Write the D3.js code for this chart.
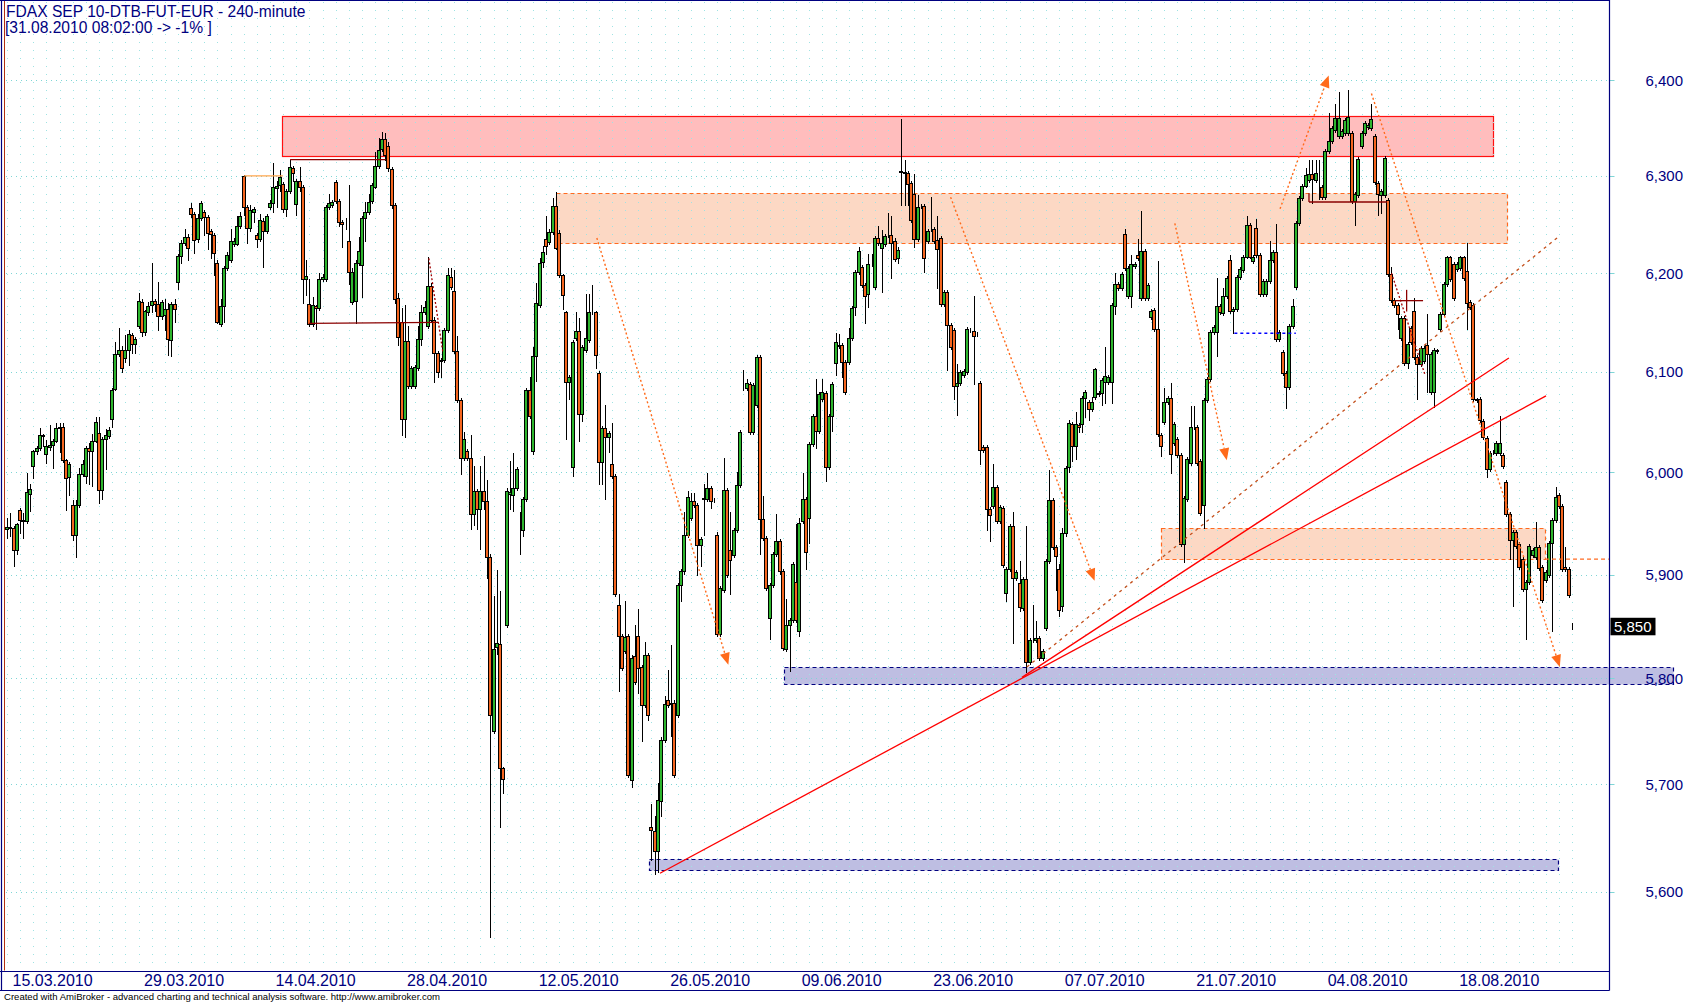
<!DOCTYPE html>
<html><head><meta charset="utf-8">
<script src="https://cdn.jsdelivr.net/npm/d3@7"></script>
<style>html,body{margin:0;padding:0;background:#fff;}svg{display:block;font-family:"Liberation Sans",Arial,sans-serif;}</style>
</head><body><svg id="c" width="1686" height="1002"></svg>
<script>
// ---------------- DATA ----------------
const chartTitle = "FDAX SEP 10-DTB-FUT-EUR - 240-minute";
const chartSubtitle = "[31.08.2010 08:02:00 -> -1% ]";
const footerText = "Created with AmiBroker - advanced charting and technical analysis software. http://www.amibroker.com";

const opens = [
5944,5946,5945,5924,5963,5953,5952,5979,6006,6021,6024,6037,6018,6025,6027,6031,6044,6045,6012,5995,
5968,5939,5968,5998,5996,6024,6021,6031,6039,5983,6033,6036,6053,6083,6118,6122,6114,6122,6137,6128,
6146,6171,6140,6160,6168,6172,6169,6156,6157,6164,6132,6169,6191,6218,6231,6237,6267,6261,6235,6257,
6263,6258,6243,6239,6210,6148,6167,6205,6213,6230,6230,6248,6300,6268,6246,6263,6239,6235,6253,6243,
6268,6272,6287,6291,6292,6266,6284,6308,6271,6295,6289,6194,6169,6148,6167,6165,6194,6194,6268,6270,
6294,6274,6252,6250,6233,6171,6172,6210,6208,6257,6263,6274,6289,6310,6328,6338,6331,6307,6270,6175,
6150,6053,6131,6086,6086,6104,6133,6160,6146,6187,6152,6119,6111,6112,6142,6196,6182,6121,6072,6014,
6021,6014,5959,5982,5964,5982,5972,5917,5750,5830,5833,5715,5851,5979,5978,5985,5944,5943,5974,6082,
6021,6116,6168,6211,6235,6232,6242,6269,6241,6198,6160,6090,6005,6134,6141,6058,6122,6132,6160,6160,
6099,6010,6044,6035,6008,5996,5871,5841,5826,5841,5704,5821,5841,5811,5775,5822,5660,5656,5638,5684,
5742,5779,5777,5777,5765,5890,5903,5939,5955,5972,5968,5929,5974,5974,5985,5973,5939,5843,5885,5983,
5924,5919,5943,5988,6084,6084,6088,6040,6067,6115,5954,5936,5858,5890,5920,5933,5903,5828,5851,5856,
5893,5845,5952,5974,5955,6028,6056,6041,6073,6079,6005,6056,6109,6127,6127,6110,6110,6134,6166,6201,
6206,6188,6179,6209,6186,6236,6226,6230,6239,6239,6233,6215,6304,6304,6303,6293,6281,6235,6269,6269,
6233,6245,6245,6234,6236,6169,6181,6147,6142,6086,6089,6097,6100,6142,6141,6138,6089,6025,6025,5964,
5967,5986,5952,5965,5882,5905,5947,5897,5892,5868,5896,5816,5837,5837,5839,5820,5848,5913,5973,5927,
5905,5870,5940,6005,6048,6026,6047,6048,6074,6070,6063,6075,6078,6079,6090,6090,6090,6167,6189,6185,
6240,6177,6177,6207,6219,6175,6223,6175,6155,6163,6143,6037,6050,6070,6074,6029,6033,6017,5930,5974,
6009,6045,6045,6011,5968,6072,6093,6140,6140,6167,6159,6177,6213,6161,6164,6196,6203,6217,6249,6212,
6246,6219,6179,6179,6192,6213,6222,6133,6120,6099,6085,6146,6186,6251,6277,6290,6296,6302,6296,6303,
6289,6278,6326,6336,6348,6341,6341,6345,6345,6345,6274,6280,6331,6345,6351,6350,6342,6293,6280,6280,
6275,6199,6173,6168,6134,6154,6109,6144,6161,6115,6108,6111,6127,6080,6080,6121,6143,6158,6189,6216,
6209,6204,6205,6216,6202,6171,6168,6073,6073,6051,6034,6003,6020,6019,6019,6017,5991,5959,5934,5941,
5930,5915,5886,5893,5919,5917,5927,5907,5895,5900,5931,5953,5978,5967,5907,5905,5850];

const highs = [
5955,5960,5947,5950,5965,5960,5999,5989,6022,6026,6044,6038,6032,6047,6033,6049,6049,6049,6013,6010,
5973,5973,6004,6012,6026,6029,6038,6055,6055,6035,6043,6045,6084,6130,6144,6126,6137,6142,6139,6135,
6180,6174,6163,6171,6210,6174,6191,6173,6174,6170,6171,6174,6220,6234,6245,6240,6272,6263,6261,6274,
6265,6260,6245,6241,6213,6174,6207,6222,6245,6236,6259,6263,6301,6270,6270,6268,6241,6261,6256,6261,
6275,6313,6295,6306,6294,6286,6317,6310,6297,6309,6291,6213,6194,6176,6168,6200,6199,6270,6281,6275,
6296,6276,6254,6256,6291,6205,6213,6237,6259,6273,6281,6293,6325,6339,6346,6345,6335,6309,6272,6180,
6165,6168,6146,6106,6107,6146,6168,6172,6216,6190,6155,6121,6114,6144,6205,6205,6203,6136,6074,6040,
6023,6037,6006,5984,6006,6016,5993,5920,5879,5904,5884,5716,5985,6011,6019,6005,5961,5976,6084,6095,
6125,6190,6215,6228,6259,6245,6277,6283,6244,6199,6162,6097,6132,6160,6154,6127,6179,6179,6188,6162,
6101,6046,6067,6041,6049,5998,5881,5843,5874,5843,5822,5851,5867,5813,5835,5824,5681,5670,5701,5744,
5783,5808,5832,5779,5892,5905,5961,5982,5980,5980,5970,5937,5989,5999,5987,5975,5941,5889,6014,5985,
5961,5945,6000,6042,6102,6093,6090,6089,6117,6117,5977,5938,5892,5922,5959,5935,5905,5876,5858,5912,
5949,5955,5999,5976,6030,6058,6093,6080,6093,6081,6058,6090,6139,6138,6129,6112,6144,6167,6203,6227,
6208,6190,6220,6220,6238,6248,6244,6240,6262,6259,6236,6227,6359,6317,6305,6295,6302,6280,6271,6271,
6245,6278,6247,6259,6238,6183,6183,6149,6144,6108,6102,6103,6145,6144,6177,6140,6091,6027,6027,5966,
6008,5988,5968,5967,5907,5949,5961,5904,5913,5898,5947,5839,5871,5855,5841,5828,5915,6002,5975,5929,
5910,5945,6006,6052,6050,6060,6049,6076,6082,6072,6075,6104,6081,6094,6125,6097,6170,6200,6191,6201,
6245,6207,6219,6211,6235,6264,6225,6190,6164,6165,6212,6039,6084,6076,6089,6050,6035,6019,5977,6015,
6066,6066,6047,6013,6074,6095,6142,6147,6195,6169,6185,6197,6219,6166,6198,6206,6219,6259,6251,6219,
6255,6221,6194,6194,6233,6224,6250,6142,6122,6101,6148,6174,6253,6279,6292,6308,6317,6317,6317,6316,
6291,6328,6366,6352,6375,6388,6349,6360,6390,6347,6283,6320,6347,6357,6355,6375,6344,6295,6286,6321,
6277,6206,6175,6170,6156,6156,6130,6146,6175,6117,6126,6126,6158,6120,6124,6123,6160,6191,6218,6218,
6211,6211,6218,6218,6231,6173,6170,6074,6075,6053,6036,6021,6022,6031,6056,6019,5993,5961,5943,5943,
5932,5917,5895,5930,5926,5951,5929,5909,5904,5933,5955,5986,5980,5969,5927,5907,5853];

const lows = [
5936,5938,5908,5920,5940,5936,5950,5962,5994,6018,6022,6026,6009,6022,6004,6030,6020,6010,5963,5978,
5934,5917,5966,5996,5990,5989,5987,6030,5970,5974,6003,6034,6045,6082,6116,6100,6110,6107,6119,6119,
6144,6136,6137,6157,6160,6161,6142,6153,6142,6117,6116,6150,6184,6210,6229,6213,6258,6221,6232,6254,
6239,6225,6215,6198,6149,6146,6150,6203,6211,6228,6229,6246,6260,6231,6243,6252,6227,6233,6206,6241,
6266,6263,6268,6284,6263,6259,6282,6295,6260,6284,6170,6178,6146,6146,6143,6163,6192,6192,6266,6268,
6272,6248,6227,6245,6189,6169,6149,6208,6176,6233,6261,6272,6287,6308,6326,6317,6305,6267,6170,6127,
6037,6035,6084,6084,6084,6102,6127,6158,6144,6150,6090,6095,6095,6110,6140,6184,6119,6070,5998,6012,
6012,5944,5948,5944,5925,5964,5897,5558,5748,5823,5660,5692,5849,5964,5962,5983,5920,5938,5972,6054,
6018,6091,6166,6206,6220,6230,6240,6225,6196,6164,6033,6073,5996,6132,6031,6051,6120,6130,6158,6104,
5989,5989,5974,6020,5994,5879,5788,5808,5824,5707,5697,5795,5786,5741,5773,5760,5629,5616,5618,5670,
5740,5773,5745,5707,5763,5874,5901,5937,5953,5966,5900,5908,5939,5972,5965,5971,5841,5841,5883,5898,
5881,5917,5941,5986,6082,6082,6038,6038,6065,5920,5934,5885,5838,5888,5918,5901,5827,5826,5807,5854,
5854,5841,5950,5905,5931,6026,6024,6039,6071,5992,6003,6041,6097,6124,6095,6078,6108,6132,6157,6199,
6186,6149,6166,6207,6184,6229,6181,6228,6237,6195,6212,6210,6270,6270,6270,6252,6227,6233,6267,6201,
6231,6243,6231,6185,6167,6167,6102,6123,6073,6057,6087,6095,6098,6140,6088,6136,6008,6020,5943,5933,
5965,5950,5950,5907,5874,5903,5834,5895,5865,5866,5806,5814,5835,5835,5818,5818,5846,5911,5925,5885,
5860,5865,5938,6000,6011,6013,6040,6040,6055,6052,6061,6073,6076,6067,6069,6088,6069,6158,6183,6183,
6203,6175,6166,6205,6213,6173,6173,6173,6153,6141,6036,6016,6048,6068,5999,6027,6015,5928,5912,5972,
6007,6043,6007,5958,5945,6070,6091,6138,6116,6158,6157,6175,6159,6139,6162,6194,6201,6215,6215,6210,
6217,6177,6177,6177,6190,6211,6131,6131,6097,6064,6083,6144,6184,6249,6275,6288,6294,6272,6294,6276,
6276,6276,6324,6334,6346,6339,6339,6343,6343,6272,6249,6278,6329,6343,6349,6348,6292,6260,6262,6278,
6197,6171,6166,6143,6132,6107,6104,6128,6113,6073,6106,6109,6080,6078,6065,6119,6141,6156,6187,6192,
6173,6202,6203,6193,6143,6164,6071,6070,6050,6033,5995,6001,6018,6017,6017,6004,5957,5915,5870,5926,
5905,5884,5838,5891,5917,5915,5904,5873,5893,5898,5845,5951,5965,5903,5903,5878,5847];

const closes = [
5946,5945,5924,5949,5953,5952,5981,5984,6021,6024,6037,6036,6026,6027,6031,6044,6045,6012,5994,6008,
5939,5968,5998,6008,6024,6021,6031,6050,5983,6033,6037,6042,6082,6118,6122,6104,6122,6138,6128,6133,
6172,6140,6161,6167,6172,6169,6156,6171,6164,6133,6169,6164,6218,6231,6237,6226,6261,6234,6256,6272,
6258,6241,6240,6221,6150,6167,6205,6219,6233,6233,6248,6259,6268,6246,6265,6266,6235,6254,6243,6259,
6272,6288,6290,6299,6266,6284,6309,6303,6295,6289,6194,6197,6148,6168,6165,6194,6196,6268,6272,6273,
6274,6252,6250,6250,6201,6201,6210,6223,6257,6263,6273,6291,6310,6327,6338,6322,6308,6270,6174,6135,
6053,6131,6086,6104,6105,6133,6160,6166,6187,6152,6119,6100,6112,6142,6198,6186,6121,6072,6014,6033,
6014,5959,5982,5964,5982,5972,5917,5765,5828,5834,5715,5705,5982,5981,5985,6003,5944,5974,6082,6056,
6116,6170,6210,6222,6228,6242,6269,6226,6198,6178,6090,6095,6130,6141,6058,6125,6134,6160,6160,6117,
6010,6044,6035,6039,5996,5881,5841,5810,5840,5709,5820,5797,5810,5775,5822,5765,5657,5638,5685,5742,
5776,5775,5776,5709,5890,5903,5939,5976,5972,5968,5929,5935,5975,5985,5972,5973,5843,5887,5983,5900,
5914,5943,5988,6040,6084,6089,6040,6087,6115,5954,5936,5887,5890,5920,5933,5903,5829,5851,5856,5910,
5856,5950,5974,5922,6028,6056,6041,6078,6080,6005,6056,6088,6130,6126,6110,6080,6134,6165,6201,6223,
6188,6177,6209,6209,6236,6231,6231,6238,6239,6231,6214,6224,6305,6303,6292,6254,6235,6268,6269,6215,
6243,6245,6233,6225,6169,6181,6147,6125,6086,6089,6100,6101,6143,6142,6136,6138,6022,6022,5964,5958,
5986,5952,5966,5909,5905,5947,5897,5902,5869,5896,5816,5837,5837,5839,5820,5826,5913,5973,5927,5918,
5866,5940,6004,6049,6026,6048,6045,6074,6080,6063,6070,6103,6079,6092,6096,6095,6168,6189,6185,6199,
6205,6205,6209,6209,6215,6223,6175,6188,6162,6143,6038,6026,6070,6074,6018,6048,6017,5930,5975,6013,
6045,6045,6009,5960,6072,6093,6140,6145,6167,6160,6177,6195,6161,6164,6196,6204,6217,6249,6217,6217,
6219,6179,6192,6192,6213,6222,6133,6140,6099,6085,6146,6167,6251,6277,6290,6301,6302,6297,6303,6303,
6278,6326,6336,6350,6360,6360,6347,6358,6361,6274,6281,6318,6345,6355,6353,6359,6294,6281,6284,6319,
6199,6173,6168,6158,6154,6109,6128,6130,6115,6108,6124,6124,6118,6118,6122,6122,6158,6189,6216,6194,
6175,6209,6216,6195,6170,6166,6073,6072,6052,6035,6003,6019,6020,6029,6029,6006,5959,5934,5941,5928,
5907,5886,5893,5928,5924,5927,5906,5875,5902,5931,5953,5976,5967,5905,5905,5880,5850];

const dateLabels = ["15.03.2010","29.03.2010","14.04.2010","28.04.2010","12.05.2010","26.05.2010",
                    "09.06.2010","23.06.2010","07.07.2010","21.07.2010","04.08.2010","18.08.2010"];
const dateLabelBars = [2,42,82,122,162,202,242,282,322,362,402,442];
const priceTicks = [5600,5700,5800,5900,6000,6100,6200,6300,6400];
const priceTickLabels = ["5,600","5,700","5,800","5,900","6,000","6,100","6,200","6,300","6,400"];
const lastValue = 5850;
const lastValueLabel = "5,850";

// zones (bar index range, price range)
const zoneKinds = ["red","peach","peach","blue","blue"];
const zoneFromBar = [83.6,167,351,236.3,195.3];
const zoneToBar   = [451.9,456.2,467.8,506.7,471.7];
const zoneLow     = [6321,6231,5915,5795,5620];
const zoneHigh    = [6362,6282,5945,5811,5630];

// trend lines
const trendKinds = ["solid","solid","dashed"];
const trendFromBar = [198.6,308.7,310.2];
const trendFromPrice = [5617,5801,5811];
const trendToBar = [468.1,456.8,471.8];
const trendToPrice = [6076,6114,6237];

// projection arrows
const arrowFromBar = [179.4,287,355.2,387.2,415];
const arrowFromPrice = [6236,6278,6251,6266,6386];
const arrowToBar = [219.4,330.8,371,402,472.3];
const arrowToPrice = [5813,5894,6012,6405,5811];

// small annotation segments
const markKinds = ["dark","dark","darkdot","dark","dark","dark","dark","darkdot","light","bluedash","peachdash"];
const markFromBar = [86.1,91.8,128.3,396,396,422.1,425.7,421.1,72.1,373.3,467.8];
const markFromPrice = [6317,6149,6215,6282,6273,6172,6183,6200,6300,6139,5915];
const markToBar = [115.2,131.1,132.6,396,419.7,430.7,425.7,431.3,83.9,392,487.2];
const markToPrice = [6317,6150,6119,6273,6273,6172,6161,6097,6300,6139,5915];

// ---------------- DRAW ----------------
const svg = d3.select("#c");
const navy = "#000080";
const axisX = 1609.5, plotBottom = 971.5, footLine = 990.5;
const x = d3.scaleLinear().domain([0, closes.length - 1]).range([7, 1572]);
const y = d3.scaleLog().domain([5600, 6400]).range([891.7, 80.2]);
const snap = v => Math.round(v) + 0.5;

svg.append("rect").attr("width",1686).attr("height",1002).attr("fill","#fff");

// zones
const zStyle = {
  red:{fill:"#ffbdbd",stroke:"#ff1010",dash:null},
  peach:{fill:"#fcd8c4",stroke:"#ff6a20",dash:"4,3"},
  blue:{fill:"#bebee2",stroke:"#000080",dash:"4,3"}
};
const zg = svg.append("g");
zoneKinds.forEach((k,i)=>{
  const s = zStyle[k];
  const x1 = snap(x(zoneFromBar[i])), x2 = snap(x(zoneToBar[i]));
  const y1 = snap(y(zoneHigh[i])), y2 = snap(y(zoneLow[i]));
  zg.append("rect").attr("x",x1).attr("y",y1).attr("width",x2-x1).attr("height",y2-y1)
    .attr("fill",s.fill).attr("stroke",s.stroke).attr("stroke-width",1.2)
    .attr("stroke-dasharray",s.dash);
});

// grid
const gg = svg.append("g");
d3.range(0, closes.length, 4).forEach(b=>{
  gg.append("line").attr("x1",snap(x(b))).attr("x2",snap(x(b))).attr("y1",2).attr("y2",970)
    .attr("stroke","#9fe3e3").attr("stroke-width",1).attr("stroke-dasharray","1,7");
});
priceTicks.forEach((p,i)=>{
  const yy = snap(y(p));
  gg.append("line").attr("x1",6).attr("x2",axisX).attr("y1",yy).attr("y2",yy)
    .attr("stroke","#7fd6d6").attr("stroke-width",1).attr("stroke-dasharray","1,4");
  gg.append("line").attr("x1",axisX).attr("x2",axisX+5).attr("y1",yy).attr("y2",yy)
    .attr("stroke","#7fd6d6").attr("stroke-width",1);
});

// candles
const cg = svg.append("g");
closes.forEach((c,i)=>{
  const o = opens[i], h = Math.max(highs[i],o,c), l = Math.min(lows[i],o,c);
  const cx = Math.round(x(i));
  cg.append("line").attr("x1",cx+0.5).attr("x2",cx+0.5)
    .attr("y1",Math.round(y(h))).attr("y2",Math.round(y(l))+1)
    .attr("stroke","#000").attr("stroke-width",1);
  const top = snap(y(Math.max(o,c))), bot = snap(y(Math.min(o,c)));
  cg.append("rect").attr("x",cx-1.5).attr("y",top).attr("width",3).attr("height",Math.max(0,bot-top))
    .attr("fill", c >= o ? "#2db52d" : "#f5661f").attr("stroke","#000").attr("stroke-width",1);
});

// annotation marks
const mStyle = {
  dark:{stroke:"#8b0000",dash:null,w:1.3},
  darkdot:{stroke:"#a00000",dash:"2,2",w:1.3},
  light:{stroke:"#ffa64d",dash:null,w:1.3},
  bluedash:{stroke:"#0000ff",dash:"3,3",w:1.3},
  peachdash:{stroke:"#ff6a20",dash:"4,3",w:1.2}
};
const mg = svg.append("g");
markKinds.forEach((k,i)=>{
  const s = mStyle[k];
  mg.append("line").attr("x1",x(markFromBar[i])).attr("y1",y(markFromPrice[i]))
    .attr("x2",x(markToBar[i])).attr("y2",y(markToPrice[i]))
    .attr("stroke",s.stroke).attr("stroke-width",s.w).attr("stroke-dasharray",s.dash);
});

// trend lines
trendKinds.forEach((k,i)=>{
  mg.append("line").attr("x1",x(trendFromBar[i])).attr("y1",y(trendFromPrice[i]))
    .attr("x2",x(trendToBar[i])).attr("y2",y(trendToPrice[i]))
    .attr("stroke", k==="solid" ? "#ff0000" : "#c4501c")
    .attr("stroke-width", 1.3)
    .attr("stroke-dasharray", k==="solid" ? null : "3,4");
});

// arrows
arrowFromBar.forEach((b,i)=>{
  const x1 = x(b), y1 = y(arrowFromPrice[i]), x2 = x(arrowToBar[i]), y2 = y(arrowToPrice[i]);
  const a = Math.atan2(y2-y1, x2-x1), L = 12, Wd = 5;
  const bx = x2 - L*Math.cos(a), by = y2 - L*Math.sin(a);
  mg.append("line").attr("x1",x1).attr("y1",y1).attr("x2",bx).attr("y2",by)
    .attr("stroke","#ff6a1a").attr("stroke-width",1.4).attr("stroke-dasharray","2,2.5");
  const pts = [[x2,y2],[bx - Wd*Math.sin(a), by + Wd*Math.cos(a)],[bx + Wd*Math.sin(a), by - Wd*Math.cos(a)]];
  mg.append("polygon").attr("points",pts.map(p=>p.join(",")).join(" ")).attr("fill","#ff6a1a");
});

// frame
const fg = svg.append("g").attr("stroke",navy).attr("stroke-width",1.2);
fg.append("line").attr("x1",0).attr("x2",axisX).attr("y1",0.5).attr("y2",0.5);
fg.append("line").attr("x1",1.5).attr("x2",1.5).attr("y1",0).attr("y2",footLine);
fg.append("line").attr("x1",axisX).attr("x2",axisX).attr("y1",0).attr("y2",footLine);
fg.append("line").attr("x1",0).attr("x2",axisX).attr("y1",plotBottom).attr("y2",plotBottom);
fg.append("line").attr("x1",0).attr("x2",axisX).attr("y1",footLine).attr("y2",footLine);
svg.append("line").attr("x1",4.5).attr("x2",4.5).attr("y1",1).attr("y2",plotBottom-1)
  .attr("stroke","#b03010").attr("stroke-width",1);

// price labels
priceTicks.forEach((p,i)=>{
  svg.append("text").attr("x",1683).attr("y",y(p)+5.5).attr("text-anchor","end")
    .attr("font-size","15px").attr("fill",navy).text(priceTickLabels[i]);
});
// last value box
const ly = y(lastValue);
svg.append("rect").attr("x",1610.5).attr("y",ly-8.5).attr("width",45).attr("height",17.5).attr("fill","#000");
svg.append("text").attr("x",1614).attr("y",ly+5.5).attr("font-size","15px").attr("fill","#fff").text(lastValueLabel);

// date labels
dateLabels.forEach((t,i)=>{
  svg.append("text").attr("x",x(dateLabelBars[i])-1).attr("y",986)
    .attr("font-size","16px").attr("fill",navy).text(t);
});

// titles
svg.append("text").attr("x",6).attr("y",17).attr("font-size","15.6px").attr("fill",navy).text(chartTitle);
svg.append("text").attr("x",5).attr("y",33).attr("font-size","15.6px").attr("fill",navy).text(chartSubtitle);
svg.append("text").attr("x",4).attr("y",999.5).attr("font-size","9.5px").attr("fill","#000")
  .attr("textLength",436).attr("lengthAdjust","spacingAndGlyphs").text(footerText);
</script>
</body></html>
